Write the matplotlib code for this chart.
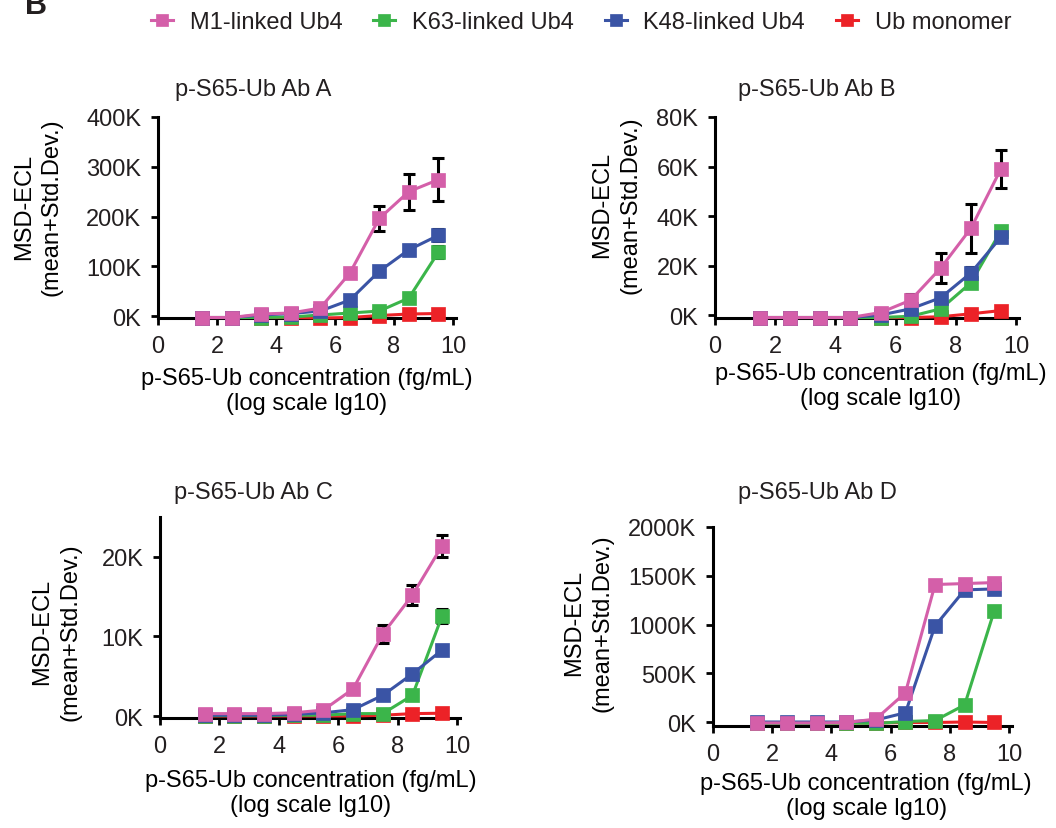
import matplotlib
matplotlib.use('Agg')
import matplotlib.pyplot as plt
from matplotlib.lines import Line2D
from matplotlib.ticker import FuncFormatter

plt.rcParams['font.family'] = ['Liberation Sans', 'DejaVu Sans']
plt.rcParams['text.color'] = '#231f20'

# log10 concentration (fg/mL)
conc = [1.5, 2.5, 3.5, 4.5, 5.5, 6.5, 7.5, 8.5, 9.5]

series_names = ['M1-linked Ub4', 'K63-linked Ub4', 'K48-linked Ub4', 'Ub monomer']
series_colors = ['#d45fa9', '#3bb54a', '#3a54a5', '#ec2227']

# panel A
a_m1 = [-3000, -3000, 4000, 6000, 16000, 86000, 196000, 250000, 274000]
a_k63 = [-3000, -3000, -3000, -2000, 2000, 6000, 10000, 36000, 128000]
a_k48 = [-3000, -3000, 2000, 5000, 10000, 32000, 90000, 133000, 162000]
a_mono = [-3000, -3000, -3000, -3000, -4000, -3000, 1000, 4000, 5000]
a_m1_sd = [0, 0, 0, 0, 0, 0, 25000, 36000, 43000]
a_k63_sd = [0, 0, 0, 0, 0, 0, 0, 0, 12000]
a_k48_sd = [0, 0, 0, 0, 0, 0, 0, 10000, 12000]

# panel B
b_m1 = [-1000, -1000, -1000, -1000, 1000, 6000, 19000, 35000, 59000]
b_k63 = [-1000, -1000, -1000, -1000, -1000, -500, 2500, 13000, 34000]
b_k48 = [-1000, -1000, -1000, -1000, 0, 2500, 7000, 17000, 31500]
b_mono = [-1000, -1000, -1000, -1000, -1000, -1000, -700, 500, 1800]
b_m1_sd = [0, 0, 0, 0, 0, 2500, 6000, 10000, 7500]
b_k63_sd = [0, 0, 0, 0, 0, 0, 0, 1000, 1500]
b_k48_sd = [0, 0, 0, 0, 0, 0, 0, 2500, 1500]

# panel C
c_m1 = [300, 300, 300, 400, 750, 3400, 10300, 15200, 21400]
c_k63 = [50, 50, 50, 100, 100, 300, 300, 2600, 12600]
c_k48 = [100, 100, 100, 200, 400, 800, 2600, 5300, 8300]
c_mono = [0, 0, 0, 0, 0, 0, 100, 300, 350]
c_m1_sd = [0, 0, 0, 0, 0, 0, 1100, 1300, 1400]
c_k63_sd = [0, 0, 0, 0, 0, 0, 0, 0, 900]
c_k48_sd = [0, 0, 0, 0, 0, 0, 0, 0, 0]

# panel D
d_m1 = [-10000, -10000, -10000, -5000, 30000, 300000, 1410000, 1420000, 1430000]
d_k63 = [-15000, -15000, -15000, -10000, -15000, 5000, 15000, 175000, 1140000]
d_k48 = [0, 0, 0, 0, 20000, 95000, 985000, 1355000, 1365000]
d_mono = [-10000, -10000, -10000, -10000, -10000, -5000, -5000, 0, -5000]
d_m1_sd = [0, 0, 0, 0, 0, 0, 0, 0, 0]
d_k63_sd = [0, 0, 0, 0, 0, 0, 0, 0, 40000]
d_k48_sd = [0, 0, 0, 0, 0, 0, 0, 0, 0]

titles = ['p-S65-Ub Ab A', 'p-S65-Ub Ab B', 'p-S65-Ub Ab C', 'p-S65-Ub Ab D']
yticks_list = [[0, 100000, 200000, 300000, 400000],
               [0, 20000, 40000, 60000, 80000],
               [0, 10000, 20000],
               [0, 500000, 1000000, 1500000, 2000000]]
ylims = [(-4000, 400000), (-1200, 80000), (-250, 25000), (-41000, 2000000)]

W, H = 1056, 829
fig = plt.figure(figsize=(W / 100, H / 100), dpi=100)

# pixel boxes (left, right, top, bottom)
boxes = [(158, 456, 118, 319), (715, 1019, 118, 319),
         (160, 460, 518, 719), (713, 1012, 528, 727)]
ylab_pos = [(-0.319, 0.557), (-0.243, 0.567), (-0.263, 0.433), (-0.334, 0.523)]
xlab_pos = [(0.5, -0.244), (0.546, -0.219), (0.503, -0.254), (0.512, -0.231)]
title_pos = [(0.319, 1.139), (0.336, 1.139), (0.313, 1.124), (0.348, 1.176)]

panels = [
    ([a_m1, a_k63, a_k48, a_mono], [a_m1_sd, a_k63_sd, a_k48_sd, None]),
    ([b_m1, b_k63, b_k48, b_mono], [b_m1_sd, b_k63_sd, b_k48_sd, None]),
    ([c_m1, c_k63, c_k48, c_mono], [c_m1_sd, c_k63_sd, c_k48_sd, None]),
    ([d_m1, d_k63, d_k48, d_mono], [d_m1_sd, d_k63_sd, d_k48_sd, None]),
]

fs = 17
kfmt = FuncFormatter(lambda v, p: '%dK' % round(v / 1000))
draw_order = [3, 1, 2, 0]  # monomer bottom, M1 on top

for i, (vals, sds) in enumerate(panels):
    l, r, t, b = boxes[i]
    ax = fig.add_axes([l / W, 1 - b / H, (r - l) / W, (b - t) / H])
    for z, k in enumerate(draw_order):
        sd = sds[k]
        if sd is not None:
            xs = [x for x, s in zip(conc, sd) if s > 0]
            ys = [v for v, s in zip(vals[k], sd) if s > 0]
            es = [s for s in sd if s > 0]
            if xs:
                ax.errorbar(xs, ys, yerr=es, fmt='none', ecolor='black',
                            elinewidth=2.2, capsize=4.5, capthick=2.2,
                            zorder=2 + z * 0.1, clip_on=False)
        ax.plot(conc, vals[k], color=series_colors[k], lw=2.2, marker='s',
                ms=10, mec=series_colors[k], mew=0.5, zorder=3 + z * 0.1,
                clip_on=False)
    ax.set_xlim(0, 10.1)
    ax.set_ylim(*ylims[i])
    ax.set_xticks([0, 2, 4, 6, 8, 10])
    ax.set_yticks(yticks_list[i])
    ax.yaxis.set_major_formatter(kfmt)
    for s in ['top', 'right']:
        ax.spines[s].set_visible(False)
    for s in ['left', 'bottom']:
        ax.spines[s].set_linewidth(2.2)
        ax.spines[s].set_zorder(2.5)
    ax.tick_params(axis='both', labelsize=fs, width=2, length=5, pad=7,
                   colors='black', labelcolor='#231f20')
    ax.set_ylabel('MSD-ECL\n(mean+Std.Dev.)', fontsize=fs, linespacing=1.35)
    ax.yaxis.set_label_coords(*ylab_pos[i])
    ax.set_xlabel('p-S65-Ub concentration (fg/mL)\n(log scale lg10)', fontsize=fs)
    ax.xaxis.set_label_coords(*xlab_pos[i])
    ax.text(title_pos[i][0], title_pos[i][1], titles[i], transform=ax.transAxes,
            ha='center', va='center', fontsize=fs)

handles = [Line2D([], [], color=c, lw=2.2, marker='s', ms=8, mec=c, mew=0.5)
           for c in series_colors]
fig.legend(handles, series_names, loc='center', bbox_to_anchor=(581 / W, 1 - 23 / H),
           ncol=4, frameon=False, fontsize=fs, handlelength=0.95,
           handletextpad=0.7, columnspacing=1.3, borderaxespad=0)

# panel letter, cut off at the top edge as in the source figure
fig.text(25 / W, 1 - 14 / H, 'B', fontsize=22, fontweight='bold', va='baseline')

fig.savefig('out.png', dpi=100)
